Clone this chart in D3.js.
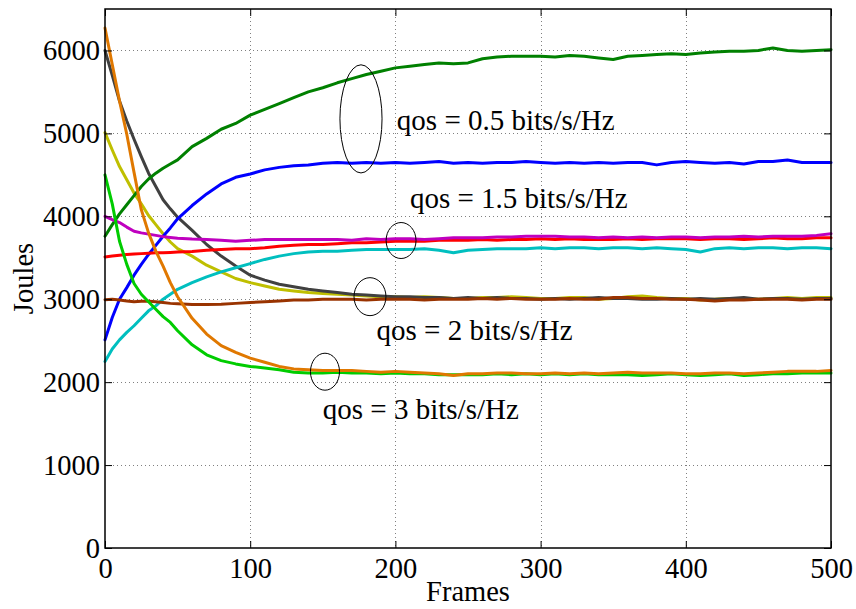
<!DOCTYPE html>
<html><head><meta charset="utf-8">
<script src="https://cdn.jsdelivr.net/npm/d3@7"></script>
<style>body{margin:0;background:#fff}</style>
</head><body>
<svg id="chart" width="856" height="609"></svg>
<script>
const frames = [0,5,10,15,20,25,30,35,40,45,50,
  60,70,80,90,100,110,120,130,140,150,
  160,170,180,190,200,210,220,230,240,250,
  260,270,280,290,300,310,320,330,340,350,
  360,370,380,390,400,410,420,430,440,450,
  460,470,480,490,500];
const xTicks = [0,100,200,300,400,500];
const yTicks = [0,1000,2000,3000,4000,5000,6000];

const yellowVals = [5010,4800,4600,4440,4280,4150,4010,3900,3790,3690,3610,
  3520,3410,3330,3250,3200,3160,3120,3100,3080,3070,
  3060,3050,3040,3030,3030,3020,3030,3020,3010,3010,
  3020,3020,3030,3020,3010,3010,3020,3020,3000,3010,
  3030,3040,3020,3010,3010,2990,3000,3010,3010,3000,
  3010,3020,3010,3020,3020];
const grayVals = [6000,5700,5390,5150,4930,4720,4520,4360,4200,4090,3990,
  3830,3660,3520,3400,3290,3230,3180,3150,3120,3100,
  3080,3060,3050,3040,3030,3030,3020,3020,3010,3020,
  3010,3020,3010,3010,3000,3010,3000,3010,3020,3010,
  3010,3000,3000,3010,3000,3010,3000,3010,3020,3000,
  3010,3010,3000,3010,3010];
const darkGreenVals = [3760,3900,4030,4140,4250,4360,4450,4520,4580,4630,4680,
  4840,4940,5050,5120,5220,5290,5360,5430,5500,5550,
  5610,5660,5710,5750,5790,5810,5830,5850,5840,5850,
  5900,5920,5930,5930,5930,5920,5940,5930,5910,5890,
  5930,5940,5950,5960,5950,5970,5980,5990,5990,6000,
  6030,6000,5990,6000,6010];
const blueVals = [2510,2780,3000,3140,3290,3420,3540,3650,3760,3860,3970,
  4130,4270,4390,4470,4510,4560,4590,4610,4620,4640,
  4650,4640,4650,4640,4650,4640,4650,4660,4640,4650,
  4640,4650,4650,4660,4650,4640,4650,4640,4650,4640,
  4650,4650,4620,4650,4660,4650,4640,4650,4630,4660,
  4660,4680,4650,4650,4650];
const redVals = [3510,3520,3530,3540,3545,3550,3555,3560,3560,3565,3570,
  3575,3590,3600,3610,3610,3620,3640,3650,3660,3660,
  3670,3680,3680,3690,3700,3700,3700,3710,3710,3710,
  3720,3710,3720,3720,3730,3720,3730,3720,3720,3720,
  3730,3720,3730,3730,3730,3720,3730,3730,3720,3730,
  3740,3730,3730,3740,3740];
const magentaVals = [4000,3960,3925,3870,3820,3800,3785,3770,3755,3745,3735,
  3725,3720,3710,3700,3710,3720,3720,3720,3720,3720,
  3720,3710,3730,3720,3730,3730,3720,3730,3740,3740,
  3740,3750,3750,3760,3760,3760,3750,3750,3740,3750,
  3740,3750,3740,3750,3750,3740,3750,3750,3760,3750,
  3760,3760,3760,3770,3790];
const cyanVals = [2250,2400,2510,2600,2680,2770,2860,2920,3000,3060,3120,
  3200,3270,3330,3380,3430,3480,3520,3550,3570,3580,
  3580,3590,3600,3600,3600,3600,3610,3590,3560,3590,
  3600,3610,3610,3610,3620,3610,3620,3620,3610,3620,
  3620,3610,3620,3610,3600,3570,3610,3620,3610,3620,
  3620,3610,3620,3620,3610];
const brownVals = [2995,3000,2990,2980,2970,2975,2975,2970,2960,2950,2945,
  2935,2935,2940,2950,2960,2970,2980,2990,2990,3000,
  3000,3000,2990,3000,3000,3000,2990,3000,3000,3000,
  3010,3000,3010,3000,3000,3000,3010,3000,3000,3020,
  3020,3010,3010,3000,3000,2990,2980,2990,2990,3000,
  3000,3000,2990,3000,3000];
const brightGreenVals = [4500,4150,3700,3420,3190,3060,2970,2880,2790,2720,2620,
  2450,2330,2260,2220,2190,2170,2150,2120,2110,2110,
  2120,2110,2110,2100,2110,2100,2100,2090,2090,2090,
  2090,2100,2090,2100,2090,2100,2090,2100,2090,2090,
  2090,2080,2090,2100,2090,2080,2090,2100,2080,2090,
  2100,2100,2110,2110,2110];
const orangeVals = [6270,5830,5390,4990,4530,4080,3800,3580,3400,3200,3030,
  2770,2580,2440,2360,2290,2240,2190,2160,2150,2140,
  2140,2140,2130,2120,2130,2120,2110,2100,2080,2100,
  2100,2110,2110,2100,2100,2110,2100,2110,2100,2110,
  2120,2110,2110,2110,2100,2100,2110,2110,2100,2110,
  2120,2130,2130,2130,2140];

const seriesList = [yellowVals, grayVals, darkGreenVals, blueVals, redVals, magentaVals, cyanVals, brownVals, brightGreenVals, orangeVals];
const seriesColors = ["#bfbf00", "#404040", "#008000", "#0000ff", "#ff0000", "#bf00bf", "#00bfbf", "#993300", "#00cc00", "#e07800"];

const annoTexts = ["qos = 0.5 bits/s/Hz", "qos = 1.5 bits/s/Hz", "qos = 2 bits/s/Hz", "qos = 3 bits/s/Hz"];
const annoFrames = [201, 210, 187, 150];
const annoValues = [5040, 4105, 2510, 1558];
const ellFrames = [176.3, 203.9, 182.5, 151.5];
const ellValues = [5175, 3708, 3031, 2126];
const ellFrameRadii = [14.5, 10.3, 11, 10];
const ellValueRadii = [652, 217, 229, 223];

const W = 856, H = 609;
const L = 105, R = 831, T = 9, B = 548;
const FONT = "'Liberation Serif','Times New Roman',serif";

const svg = d3.select("#chart");
svg.append("rect").attr("width", W).attr("height", H).attr("fill", "#fff");

const x = d3.scaleLinear().domain([0, 500]).range([L, R]);
const y = d3.scaleLinear().domain([0, 6500]).range([B, T]);

// grid
const grid = svg.append("g").attr("stroke", "#808080").attr("stroke-width", 1).attr("stroke-dasharray", "1,3");
grid.selectAll("line.gx").data(xTicks.slice(1, -1)).join("line")
  .attr("x1", d => Math.round(x(d)) + 0.5).attr("x2", d => Math.round(x(d)) + 0.5)
  .attr("y1", T).attr("y2", B);
grid.selectAll("line.gy").data(yTicks.slice(1)).join("line")
  .attr("y1", d => Math.round(y(d)) + 0.5).attr("y2", d => Math.round(y(d)) + 0.5)
  .attr("x1", L).attr("x2", R);

// lines
const line = d3.line().x((d, i) => x(frames[i])).y(d => y(d)).curve(d3.curveLinear);
svg.append("g").selectAll("path").data(seriesList).join("path")
  .attr("d", d => line(d))
  .attr("fill", "none")
  .attr("stroke", (d, i) => seriesColors[i])
  .attr("stroke-width", 3)
  .attr("stroke-linejoin", "round")
  .attr("stroke-linecap", "round");

// axes
function styleAxis(g) {
  g.selectAll("path.domain").remove();
  g.selectAll(".tick line").attr("stroke", "#000").attr("stroke-width", 1);
  g.selectAll(".tick text").attr("font-family", FONT).attr("font-size", 28.5).attr("fill", "#000");
}
svg.append("g").attr("transform", `translate(0,${B})`)
  .call(d3.axisBottom(x).tickValues(xTicks).tickSizeInner(-7).tickSizeOuter(0).tickPadding(10).tickFormat(d3.format("d")))
  .call(styleAxis);
svg.append("g").attr("transform", `translate(${L},0)`)
  .call(d3.axisLeft(y).tickValues(yTicks).tickSizeInner(-7).tickSizeOuter(0).tickPadding(5).tickFormat(d3.format("d")))
  .call(styleAxis);
svg.append("g").attr("transform", `translate(0,${T})`)
  .call(d3.axisTop(x).tickValues(xTicks).tickSizeInner(-7).tickSizeOuter(0).tickFormat(""))
  .call(styleAxis);
svg.append("g").attr("transform", `translate(${R},0)`)
  .call(d3.axisRight(y).tickValues(yTicks).tickSizeInner(-7).tickSizeOuter(0).tickFormat(""))
  .call(styleAxis);

// box
svg.append("rect").attr("x", L).attr("y", T).attr("width", R - L).attr("height", B - T)
  .attr("fill", "none").attr("stroke", "#000").attr("stroke-width", 1.5);

// ellipses
svg.append("g").selectAll("ellipse").data(ellFrames).join("ellipse")
  .attr("cx", d => x(d))
  .attr("cy", (d, i) => y(ellValues[i]))
  .attr("rx", (d, i) => x(ellFrameRadii[i]) - x(0))
  .attr("ry", (d, i) => y(0) - y(ellValueRadii[i]))
  .attr("fill", "none").attr("stroke", "#000").attr("stroke-width", 1);

// annotations
svg.append("g").selectAll("text").data(annoTexts).join("text")
  .attr("x", (d, i) => x(annoFrames[i]))
  .attr("y", (d, i) => y(annoValues[i]))
  .attr("font-family", FONT).attr("font-size", 29).attr("fill", "#000")
  .text(d => d);

// axis labels
svg.append("text").attr("x", (L + R) / 2).attr("y", 601).attr("text-anchor", "middle")
  .attr("font-family", FONT).attr("font-size", 28.5).text("Frames");
svg.append("text").attr("transform", `translate(33,${(T + B) / 2}) rotate(-90)`).attr("text-anchor", "middle")
  .attr("font-family", FONT).attr("font-size", 28.5).text("Joules");
</script>
</body></html>
